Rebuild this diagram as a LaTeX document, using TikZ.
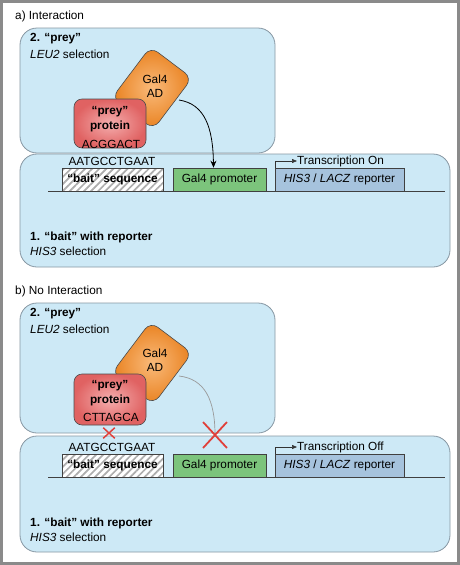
\documentclass[tikz,border=0pt]{standalone}
\usepackage{fontspec}
\setmainfont{Liberation Sans}
\usetikzlibrary{arrows.meta,shapes.misc,patterns.meta,calc}
\definecolor{cellblue}{HTML}{CDE9F6}
\definecolor{cellline}{HTML}{8797A3}
\definecolor{orgout}{HTML}{E9811F}
\definecolor{orgin}{HTML}{F9BA7A}
\definecolor{redout}{HTML}{E06262}
\definecolor{redin}{HTML}{F4AEAE}
\definecolor{promgreen}{HTML}{7CC47C}
\definecolor{repblue}{HTML}{A6C3DD}
\definecolor{xred}{HTML}{E0403A}
\definecolor{framegray}{HTML}{8A8A8A}
\newcommand\fsz{\fontsize{11.8}{14}\selectfont}
\begin{document}
\begin{tikzpicture}[x=1pt,y=-1pt,
 txt/.style={font=\fsz, inner sep=0pt},
 ltxt/.style={txt, anchor=west},
 btxt/.style={font=\fsz\bfseries, inner sep=0pt},
 lbtxt/.style={btxt, anchor=west},
 cell/.style={draw=cellline, fill=cellblue, line width=0.8pt, rounded corners=17pt, inner sep=0pt},
 galbox/.style={draw=black!70, line width=0.6pt, rounded corners=9pt, inner color=orgin, outer color=orgout, minimum width=52pt, minimum height=64pt, inner sep=0pt, rotate=-37},
 preybox/.style={draw=black!70, line width=0.6pt, rounded corners=8pt, inner color=redin, outer color=redout, minimum width=72pt, inner sep=0pt},
 dnabox/.style={draw=black!75, line width=0.7pt, minimum height=23pt, inner sep=0pt},
 baitbox/.style={dnabox, preaction={fill=white}, pattern={Lines[angle=45,distance=5pt,line width=1.7pt]}, pattern color=black!32, minimum width=101pt},
 prombox/.style={dnabox, fill=promgreen, minimum width=93pt},
 repbox/.style={dnabox, fill=repblue, minimum width=129pt},
 dna/.style={draw=black!75, line width=0.8pt},
 tarrow/.style={draw=black!80, line width=0.6pt, -{Triangle[length=5pt,width=4pt]}},
 bind/.style={draw=black, line width=0.8pt, -{Stealth[length=7pt,width=6pt]}},
 nobind/.style={draw=black!40, line width=0.7pt},
 xmark/.style={draw=xred, cross out, inner sep=0pt, line width=1.8pt}
]
\useasboundingbox (0,0) rectangle (460,565);
\fill[white] (0,0) rectangle (460,565);
\draw[framegray, line width=3pt] (1.5,1.5) rectangle (458.5,563.5);

% ---------------- panel a ----------------
\node[ltxt] (titleA) at (15,16) {a) Interaction};
\node[cell, minimum width=255pt, minimum height=125pt] (preyCellA) at (147.5,90.5) {};
\node[lbtxt] (preyLblA) at (30,39) {2. “prey”};
\node[ltxt] (leuA) at (30,54) {\textit{LEU2} selection};
\node[galbox] (galA) at (152,88) {};
\node[txt, align=center] (galTxtA) at (155,86) {Gal4\\AD};
\node[preybox, minimum height=49pt] (preyA) at (110,123.5) {};
\node[btxt] (preyT1A) at (110,112) {“prey”};
\node[btxt] (preyT2A) at (110,126) {protein};
\node[txt] (preyT3A) at (111,144) {ACGGACT};

\node[cell, minimum width=430pt, minimum height=113pt] (baitCellA) at (235,210.5) {};
\node[baitbox] (baitA) at (112.5,179.5) {};
\node[btxt] (baitTxtA) at (112.5,179.5) {“bait” sequence};
\node[prombox] (promA) at (219.5,179.5) {};
\node[txt] (promTxtA) at (219.5,179.5) {Gal4 promoter};
\node[repbox] (repA) at (339.5,179.5) {};
\node[txt] (repTxtA) at (339.5,179.5) {\textit{HIS3} / \textit{LACZ} reporter};
\coordinate (dnaLA) at (48,191);
\coordinate (dnaRA) at (445,191);
\draw[dna] (dnaLA) -- (dnaRA);
\node[txt] (seqA) at (112,161) {AATGCCTGAAT};
\node[ltxt] (trA) at (297,161) {Transcription On};
\draw[tarrow] ([xshift=1pt]repA.north west) |- (trA.west);
\coordinate (arrA) at (179,100);
\draw[bind] (arrA) .. controls (205,104) and (213,128) .. ([xshift=-6pt]promA.north);
\node[lbtxt] (bait1A) at (30,237) {1. “bait” with reporter};
\node[ltxt] (his3A) at (30,251) {\textit{HIS3} selection};

% ---------------- panel b ----------------
\node[ltxt] (titleB) at (15,291) {b) No Interaction};
\node[cell, minimum width=255pt, minimum height=130pt] (preyCellB) at (147.5,368) {};
\node[lbtxt] (preyLblB) at (30,314) {2. “prey”};
\node[ltxt] (leuB) at (30,329) {\textit{LEU2} selection};
\node[galbox] (galB) at (152,363) {};
\node[txt, align=center] (galTxtB) at (155,360) {Gal4\\AD};
\node[preybox, minimum height=51pt] (preyB) at (110,399.5) {};
\node[btxt] (preyT1B) at (110,386) {“prey”};
\node[btxt] (preyT2B) at (110,400) {protein};
\node[txt] (preyT3B) at (111,417) {CTTAGCA};

\node[cell, minimum width=430pt, minimum height=116pt] (baitCellB) at (235,494) {};
\node[baitbox] (baitB) at (112.5,465.5) {};
\node[btxt] (baitTxtB) at (112.5,465.5) {“bait” sequence};
\node[prombox] (promB) at (219.5,465.5) {};
\node[txt] (promTxtB) at (219.5,465.5) {Gal4 promoter};
\node[repbox] (repB) at (339.5,465.5) {};
\node[txt] (repTxtB) at (339.5,465.5) {\textit{HIS3} / \textit{LACZ} reporter};
\coordinate (dnaLB) at (48,477);
\coordinate (dnaRB) at (445,477);
\draw[dna] (dnaLB) -- (dnaRB);
\node[txt] (seqB) at (112,447) {AATGCCTGAAT};
\node[ltxt] (trB) at (297,447) {Transcription Off};
\draw[tarrow] ([xshift=1pt]repB.north west) |- (trB.west);
\coordinate (arrB) at (179,376);
\coordinate (endB) at (215,435);
\draw[nobind] (arrB) .. controls (205,379) and (215,400) .. (endB);
\node[xmark, minimum width=22pt, minimum height=24pt] (xBig) at (endB) {};
\node[xmark, line width=1.5pt, minimum width=10pt, minimum height=9pt] (xSmall) at (109,433) {};
\node[lbtxt] (bait1B) at (30,523) {1. “bait” with reporter};
\node[ltxt] (his3B) at (30,537) {\textit{HIS3} selection};
\end{tikzpicture}
\end{document}
